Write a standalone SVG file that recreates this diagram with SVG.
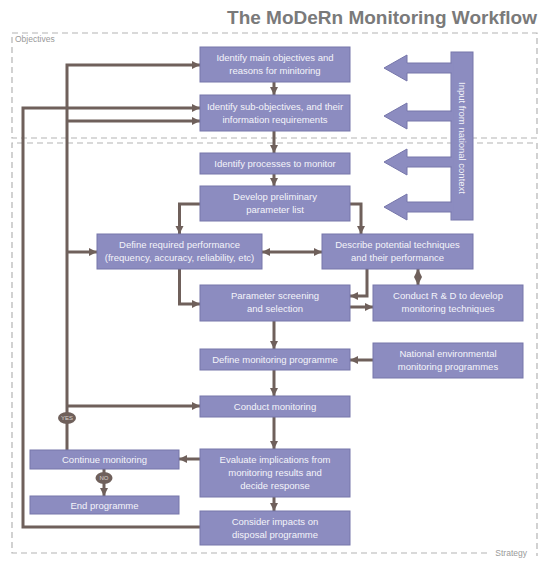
<svg xmlns="http://www.w3.org/2000/svg" width="552" height="562" viewBox="0 0 552 562">
<defs>
<style>
.node rect{fill:#8c8cc0;stroke:#7676aa;stroke-width:1}
.node text{fill:#f4f4fa;font-family:"Liberation Sans",Arial,sans-serif;font-size:9.5px;text-anchor:middle}
.conn path{fill:none;stroke:#6f605b;stroke-width:3}
.dash{fill:none;stroke:#b4b4b4;stroke-width:1.2;stroke-dasharray:6 4}
.lbl{fill:#9a9a9a;font-family:"Liberation Sans",Arial,sans-serif;font-size:8.5px}
.oval ellipse{fill:#6f605b}
.oval text{fill:#d8d0cc;font-family:"Liberation Sans",Arial,sans-serif;font-size:6px;text-anchor:middle}
</style>
<marker id="ah" markerUnits="userSpaceOnUse" markerWidth="9" markerHeight="9" refX="8" refY="4.5" orient="auto-start-reverse">
<path d="M0,0.5 L8,4.5 L0,8.5 z" fill="#6f605b"/>
</marker>
</defs>
<rect width="552" height="562" fill="#ffffff"/>
<text x="537" y="24" text-anchor="end" font-family="'Liberation Sans',Arial,sans-serif" font-size="19" font-weight="bold" fill="#7a7a7a">The MoDeRn Monitoring Workflow</text>
<g id="zones">
<rect class="dash" x="12" y="33" width="525" height="105"/>
<path class="dash" d="M487,553 H12 V143 H537 V556"/>
<text class="lbl" x="15" y="42">Objectives</text>
<text class="lbl" x="527" y="556" text-anchor="end">Strategy</text>
</g>
<g id="input">
<rect x="451" y="52" width="22" height="168" fill="#8c8cc0" stroke="#7676aa" stroke-width="1"/>
<g fill="#8c8cc0" stroke="#7676aa" stroke-width="1">
<path d="M452,63 H407 V55 L384,68 L407,81 V73 H452"/>
<path d="M452,111 H407 V103 L384,116 L407,129 V121 H452"/>
<path d="M452,157 H407 V149 L384,162 L407,175 V167 H452"/>
<path d="M452,202 H407 V194 L384,207 L407,220 V212 H452"/>
</g>
<rect x="451.6" y="52.6" width="1.5" height="167" fill="#8c8cc0"/>
<text transform="translate(459,138) rotate(90)" text-anchor="middle" fill="#f4f4fa" font-family="'Liberation Sans',Arial,sans-serif" font-size="9.5">Input from national context</text>
</g>
<g id="connectors" class="conn">
<path d="M274,82 V95" marker-end="url(#ah)"/>
<path d="M274,131 V153" marker-end="url(#ah)"/>
<path d="M274,174 V186" marker-end="url(#ah)"/>
<path d="M200,204 H179.5 V234" marker-end="url(#ah)"/>
<path d="M350,204 H361 V234" marker-end="url(#ah)"/>
<path d="M262,252 H322" marker-start="url(#ah)" marker-end="url(#ah)"/>
<path d="M179.5,269 V304 H200" marker-end="url(#ah)"/>
<path d="M367,269 V296 H350" marker-end="url(#ah)"/>
<path d="M418,269 V285" marker-start="url(#ah)" marker-end="url(#ah)"/>
<path d="M350,307 H373" marker-end="url(#ah)"/>
<path d="M274,321 V349" marker-end="url(#ah)"/>
<path d="M373,360 H350" marker-end="url(#ah)"/>
<path d="M274,370 V396" marker-end="url(#ah)"/>
<path d="M274,417 V449" marker-end="url(#ah)"/>
<path d="M200,459 H179" marker-end="url(#ah)"/>
<path d="M104,469 V496" marker-end="url(#ah)"/>
<path d="M274,497 V511" marker-end="url(#ah)"/>
<path d="M67,450 V65 H200" marker-end="url(#ah)"/>
<path d="M67,121 H200" marker-end="url(#ah)"/>
<path d="M67,252 H97" marker-end="url(#ah)"/>
<path d="M67,406 H200" marker-end="url(#ah)"/>
<path d="M200,527 H23 V108 H200" marker-end="url(#ah)"/>
</g>
<g id="yes" class="oval"><ellipse cx="67" cy="418" rx="9" ry="6"/><text x="67" y="420">YES</text></g>
<g id="no" class="oval"><ellipse cx="104" cy="478" rx="8.5" ry="6"/><text x="104" y="480">NO</text></g>
<g id="n1" class="node"><rect x="200" y="47" width="150" height="35"/><text x="275" y="61">Identify main objectives and</text><text x="275" y="74">reasons for minitoring</text></g>
<g id="n2" class="node"><rect x="200" y="95" width="150" height="36"/><text x="275" y="110">Identify sub-objectives, and their</text><text x="275" y="123">information requirements</text></g>
<g id="n3" class="node"><rect x="200" y="153" width="150" height="21"/><text x="275" y="167">Identify processes to monitor</text></g>
<g id="n4" class="node"><rect x="200" y="186" width="150" height="35"/><text x="275" y="200">Develop preliminary</text><text x="275" y="213">parameter list</text></g>
<g id="n5" class="node"><rect x="97" y="234" width="165" height="35"/><text x="179.5" y="248">Define required performance</text><text x="179.5" y="261">(frequency, accuracy, reliability, etc)</text></g>
<g id="n6" class="node"><rect x="322" y="234" width="151" height="35"/><text x="397.5" y="248">Describe potential techniques</text><text x="397.5" y="261">and their performance</text></g>
<g id="n7" class="node"><rect x="200" y="285" width="150" height="36"/><text x="275" y="299">Parameter screening</text><text x="275" y="312">and selection</text></g>
<g id="n8" class="node"><rect x="373" y="285" width="150" height="36"/><text x="448" y="299">Conduct R &amp; D to develop</text><text x="448" y="312">monitoring techniques</text></g>
<g id="n9" class="node"><rect x="200" y="349" width="150" height="21"/><text x="275" y="363">Define monitoring programme</text></g>
<g id="n10" class="node"><rect x="373" y="343" width="150" height="35"/><text x="448" y="357">National environmental</text><text x="448" y="370">monitoring programmes</text></g>
<g id="n11" class="node"><rect x="200" y="396" width="150" height="21"/><text x="275" y="410">Conduct monitoring</text></g>
<g id="n12" class="node"><rect x="30" y="450" width="149" height="19"/><text x="104.5" y="463">Continue monitoring</text></g>
<g id="n13" class="node"><rect x="200" y="449" width="150" height="48"/><text x="275" y="463">Evaluate implications from</text><text x="275" y="476">monitoring results and</text><text x="275" y="489">decide response</text></g>
<g id="n14" class="node"><rect x="30" y="496" width="149" height="18"/><text x="104.5" y="508.5">End programme</text></g>
<g id="n15" class="node"><rect x="200" y="511" width="150" height="34"/><text x="275" y="525">Consider impacts on</text><text x="275" y="538">disposal programme</text></g>
</svg>
